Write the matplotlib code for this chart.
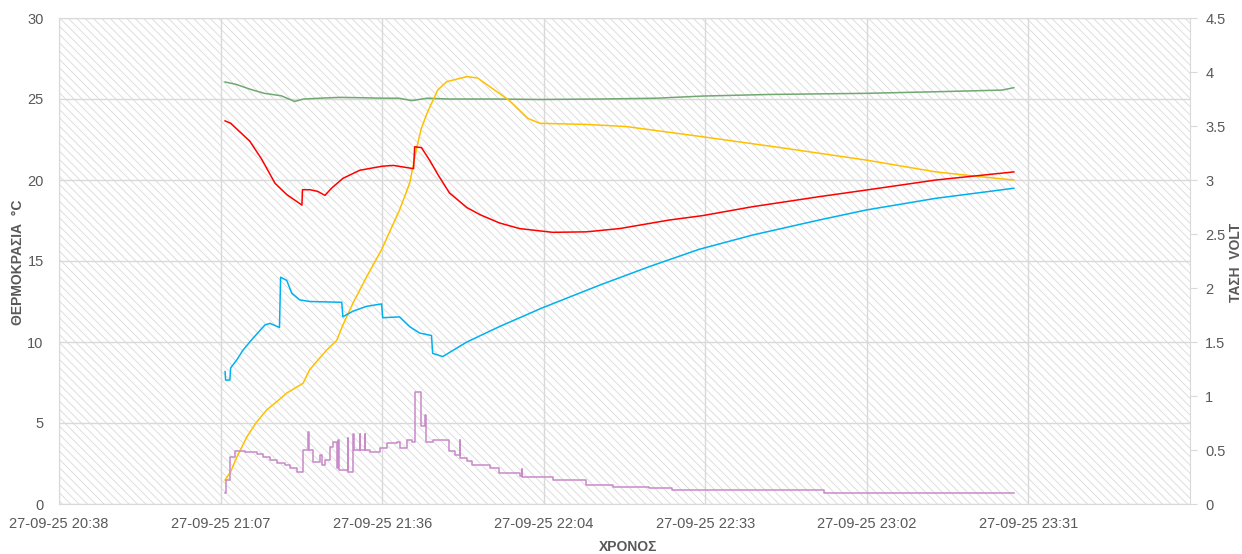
import datetime
import matplotlib
matplotlib.use('Agg')
import matplotlib.pyplot as plt
import matplotlib.dates as md
from matplotlib.patches import Rectangle

plt.rcParams['font.family'] = ['Liberation Sans Narrow', 'Liberation Sans', 'DejaVu Sans']
plt.rcParams['hatch.linewidth'] = 0.6
plt.rcParams['hatch.color'] = '#d9d9d9'

#Data: times in minutes after 21:00, values in the left axis units
green_t = [8.0, 10.0, 12.5, 15.0, 18.0, 20.4, 22.0, 25.0, 28.4, 32.0, 36.0, 39.0, 41.3, 44.0,
           48.0, 56.0, 64.0, 75.0, 85.0, 93.0, 105.0, 122.3, 135.0, 146.5, 148.6]
green_v = [26.05, 25.9, 25.6, 25.35, 25.2, 24.85, 25.0, 25.05, 25.1, 25.08, 25.05, 25.05, 24.9, 25.05,
           25.0, 25.0, 24.97, 25.0, 25.05, 25.18, 25.28, 25.35, 25.45, 25.55, 25.7]

red_t = [8.0, 9.0, 12.4, 14.5, 16.9, 19.0, 21.3, 21.7, 21.8, 23.1, 24.5, 25.8, 27.0, 29.0, 32.0,
         36.0, 38.0, 41.6, 41.8, 43.0, 44.5, 46.0, 48.0, 51.1, 53.5, 56.9, 60.5, 66.4, 72.4, 78.3,
         87.2, 93.1, 102.0, 113.9, 122.3, 134.7, 148.6]
red_v = [23.65, 23.5, 22.4, 21.3, 19.8, 19.1, 18.55, 18.45, 19.4, 19.4, 19.3, 19.05, 19.5, 20.1, 20.6,
         20.85, 20.9, 20.7, 22.05, 22.0, 21.2, 20.3, 19.2, 18.3, 17.85, 17.35, 17.0, 16.77, 16.8, 17.0,
         17.53, 17.8, 18.35, 18.97, 19.38, 20.0, 20.5]

yellow_t = [8.0, 9.0, 10.1, 11.9, 13.5, 15.4, 17.5, 19.0, 21.9, 23.1, 26.1, 27.9, 29.0, 30.8, 33.2,
            35.9, 39.1, 40.9, 42.2, 43.0, 44.1, 45.9, 47.5, 51.1, 53.0, 55.2, 58.7, 62.0, 64.1, 72.4,
            79.5, 93.1, 108.0, 122.3, 134.7, 143.6, 148.6]
yellow_v = [1.48, 2.0, 2.9, 4.15, 5.0, 5.8, 6.4, 6.85, 7.45, 8.3, 9.5, 10.1, 11.05, 12.4, 14.0,
            15.7, 18.15, 19.8, 22.06, 23.2, 24.2, 25.55, 26.07, 26.38, 26.3, 25.76, 24.9, 23.8, 23.5, 23.43,
            23.3, 22.67, 21.95, 21.23, 20.5, 20.17, 20.0]

blue_t = [8.0, 8.1, 8.85, 9.0, 10.1, 11.2, 12.9, 15.1, 16.0, 17.7, 17.9, 19.0, 19.9, 21.3, 23.1,
          28.8, 29.0, 30.8, 33.2, 35.9, 36.1, 39.1, 40.9, 42.7, 44.8, 45.0, 46.8, 51.1, 56.9, 64.5,
          74.7, 83.6, 92.5, 102.0, 113.9, 122.3, 134.7, 148.6]
blue_v = [8.17, 7.65, 7.65, 8.4, 8.9, 9.5, 10.2, 11.05, 11.15, 10.9, 14.0, 13.8, 13.0, 12.6, 12.5,
          12.45, 11.56, 11.9, 12.2, 12.35, 11.5, 11.55, 10.95, 10.55, 10.4, 9.3, 9.1, 10.0, 10.95, 12.1,
          13.5, 14.65, 15.72, 16.6, 17.53, 18.15, 18.87, 19.49]

purple_t = [8.0, 8.1, 8.8, 9.8, 11.5, 13.7, 14.8, 16.0, 17.2, 18.6, 19.5, 20.8, 21.9, 22.7, 22.9,
            23.6, 24.9, 25.2, 25.8, 26.7, 27.2, 27.9, 28.1, 28.3, 29.9, 30.0, 30.8, 30.9, 32.0, 32.1,
            32.9, 33.0, 33.8, 35.6, 36.8, 38.6, 39.1, 40.4, 41.4, 41.8, 43.0, 43.7, 43.9, 45.0, 48.0,
            48.9, 49.8, 49.9, 51.1, 52.1, 55.2, 56.9, 60.5, 60.9, 61.0, 66.4, 72.4, 77.1, 83.6, 87.7,
            114.8, 148.6]
purple_v = [0.68, 1.5, 2.9, 3.3, 3.2, 3.1, 2.9, 2.7, 2.55, 2.4, 2.2, 2.0, 3.33, 4.46, 3.33,
            2.6, 3.0, 2.4, 2.7, 3.5, 3.85, 2.2, 3.95, 2.1, 4.05, 2.0, 4.3, 3.33, 4.3, 3.33,
            4.3, 3.33, 3.2, 3.45, 3.75, 3.85, 3.45, 3.95, 3.85, 6.93, 4.8, 5.5, 3.85, 3.95, 3.3,
            3.0, 3.95, 2.85, 2.65, 2.4, 2.25, 1.9, 1.7, 2.15, 1.65, 1.48, 1.2, 1.03, 0.97, 0.86,
            0.68, 0.65]

x_labels = ['27-09-25 20:38', '27-09-25 21:07', '27-09-25 21:36', '27-09-25 22:04',
            '27-09-25 22:33', '27-09-25 23:02', '27-09-25 23:31']

#Axis: Excel serial 45927.86 .. 45928.00, major unit 0.02 day
base = datetime.datetime(2025, 9, 27, 21, 0)
x_start = datetime.datetime(2025, 9, 27, 20, 38, 24)
step = datetime.timedelta(minutes=28.8)

def times(ts):
    return [base + datetime.timedelta(minutes=m) for m in ts]

grey = '#595959'
fig = plt.figure(figsize=(12.42, 5.54), dpi=100)
ax = fig.add_axes([59 / 1242, 1 - 504 / 554, (1190 - 59) / 1242, (504 - 18) / 554])

ax.add_patch(Rectangle((0, 0), 1, 1, transform=ax.transAxes, facecolor='white',
                       edgecolor='#d9d9d9', hatch='\\\\\\\\', lw=0, zorder=0))

lw = 1.1
ax.plot(times(green_t), green_v, color='#70a870', lw=lw, zorder=3)
ax.plot(times(yellow_t), yellow_v, color='#ffc000', lw=lw, zorder=3)
ax.plot(times(red_t), red_v, color='#ff0000', lw=lw, zorder=4)
ax.plot(times(blue_t), blue_v, color='#00b0f0', lw=lw, zorder=3)
ax.step(times(purple_t), purple_v, where='post', color='#c88ac8', lw=lw, zorder=3)

ax.set_xlim(x_start, x_start + 7 * step)
ax.set_xticks([x_start + k * step for k in range(7)])
ax.set_xticklabels(x_labels)
ax.set_ylim(0, 30)
ax.set_yticks(range(0, 31, 5))
ax.grid(color='#d9d9d9', lw=1.0, zorder=1)
ax.set_axisbelow(True)
for s in ax.spines.values():
    s.set_color('#d9d9d9')
ax.tick_params(axis='both', length=0, colors=grey, labelsize=10.5)
ax.tick_params(axis='y', pad=11)
ax.tick_params(axis='x', pad=9)

ax2 = ax.twinx()
ax2.set_ylim(0, 4.5)
ax2.set_yticks([0, 0.5, 1, 1.5, 2, 2.5, 3, 3.5, 4, 4.5])
ax2.set_yticklabels(['0', '0.5', '1', '1.5', '2', '2.5', '3', '3.5', '4', '4.5'])
ax2.tick_params(axis='y', length=5, colors=grey, labelsize=10.5, pad=6)
ax2.tick_params(axis='y', color='#d9d9d9')
for s in ax2.spines.values():
    s.set_visible(False)

fig.text(18 / 1242, 1 - 262 / 554, 'ΘΕΡΜΟΚΡΑΣΙΑ  °C', rotation=90, ha='center', va='center',
         fontsize=10, fontweight='bold', color=grey)
fig.text(1236 / 1242, 1 - 262 / 554, 'ΤΑΣΗ  VOLT', rotation=90, ha='center', va='center',
         fontsize=10, fontweight='bold', color=grey)
fig.text(628 / 1242, 1 - 547 / 554, 'ΧΡΟΝΟΣ', ha='center', va='center',
         fontsize=10, fontweight='bold', color=grey)

fig.savefig('out.png', dpi=100)
